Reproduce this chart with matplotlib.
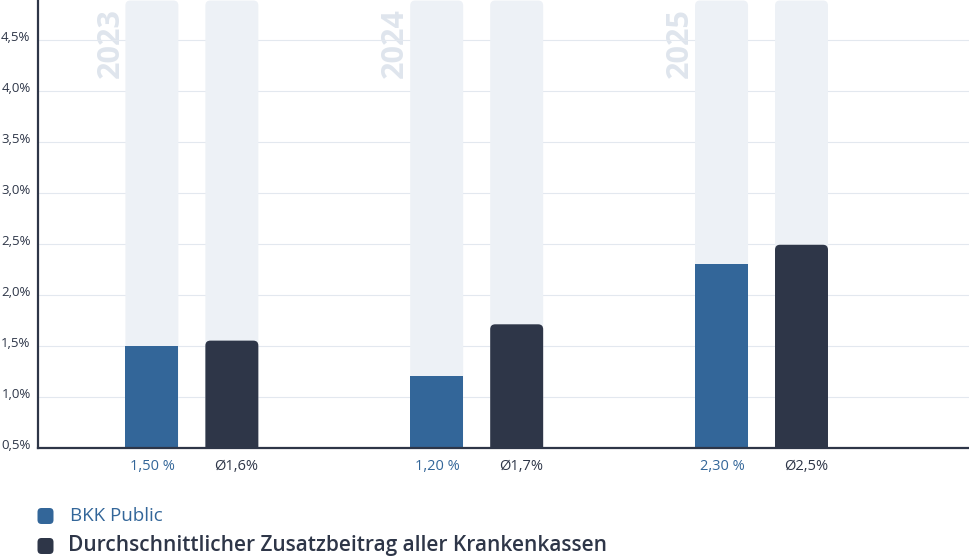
"""Zusatzbeitrag BKK Public vs. Durchschnitt aller Krankenkassen."""

import matplotlib

matplotlib.use("Agg")
import matplotlib.pyplot as plt
import numpy as np
from matplotlib.patches import FancyBboxPatch
from matplotlib.transforms import ScaledTranslation, blended_transform_factory

years = ["2023", "2024", "2025"]
bkk_values = [1.50, 1.20, 2.30]
avg_values = [1.55, 1.71, 2.49]
bkk_labels = ["1,50 %", "1,20 %", "2,30 %"]
avg_labels = ["Ø1,6%", "Ø1,7%", "Ø2,5%"]
yticks = [0.5, 1.0, 1.5, 2.0, 2.5, 3.0, 3.5, 4.0, 4.5]
ytick_labels = ["0,5%", "1,0%", "1,5%", "2,0%", "2,5%", "3,0%", "3,5%", "4,0%", "4,5%"]
legend_labels = ["BKK Public", "Durchschnittlicher Zusatzbeitrag aller Krankenkassen"]

BLUE = "#336699"
DARK = "#2e3648"
TRACK = "#edf1f6"
YEAR = "#dfe5ed"
GRID = "#e3e8ef"

plt.rcParams["font.family"] = ["Open Sans", "DejaVu Sans"]

W, H, DPI = 970, 560, 100
fig = plt.figure(figsize=(W / DPI, H / DPI), dpi=DPI)
ax = fig.add_axes([37.5 / W, (H - 447.7) / H, 1 - 37.5 / W, 447.7 / H])

YMIN, YMAX = 0.5, 4.89
XMIN, XMAX = -0.542, 2.732
ax.set_xlim(XMIN, XMAX)
ax.set_ylim(YMIN, YMAX)

width = 0.186
offset = 0.1404
# pixels per data unit, used to keep the corner radius round
px_x = ax.get_position().width * W / (XMAX - XMIN)
px_y = ax.get_position().height * H / (YMAX - YMIN)
radius = 5 / px_x
aspect = px_x / px_y


def rounded_bar(x, bottom, top, color, z):
    patch = FancyBboxPatch(
        (x - width / 2, bottom), width, top - bottom,
        boxstyle=f"round,pad=0,rounding_size={radius}",
        mutation_aspect=aspect, facecolor=color, edgecolor="none", zorder=z,
    )
    ax.add_patch(patch)


x = np.arange(len(years))
for i in x:
    for dx in (-offset, offset):
        rounded_bar(i + dx, YMIN - 0.3, YMAX - 0.005, TRACK, 1)
    rounded_bar(i + offset, YMIN - 0.3, avg_values[i], DARK, 3)

ax.bar(x - offset, bkk_values, width=width, bottom=0, color=BLUE, zorder=3)

ax.set_yticks(yticks)
ax.set_yticklabels(ytick_labels, fontsize=9.5, color="#2e3648")
ax.set_xticks([])
ax.tick_params(axis="y", length=0, pad=5)
# labels sit a few pixels above their grid line
lift = ScaledTranslation(0, 4 / DPI, fig.dpi_scale_trans)
for lbl in ax.get_yticklabels():
    lbl.set_transform(lbl.get_transform() + lift)
ax.grid(axis="y", color=GRID, linewidth=0.8, zorder=0)
ax.set_axisbelow(True)

for side in ("top", "right"):
    ax.spines[side].set_visible(False)
for side in ("left", "bottom"):
    ax.spines[side].set_color(DARK)
    ax.spines[side].set_linewidth(1.6)
    ax.spines[side].set_zorder(5)

trans = blended_transform_factory(ax.transData, ax.transAxes)
nudge = 4.5 / px_x
for i, year in enumerate(years):
    ax.text(i - 0.286, 1 - 8 / 447.7, year, transform=trans, rotation=90,
            ha="center", va="top", fontsize=22, fontweight="bold", color=YEAR, zorder=0.5)
    ax.text(i - offset + 1 / px_x, -19 / 447.7, bkk_labels[i], transform=trans,
            ha="center", va="center", fontsize=10.5, color=BLUE)
    ax.text(i + offset + nudge, -19 / 447.7, avg_labels[i], transform=trans,
            ha="center", va="center", fontsize=10.5, color=DARK)

# legend drawn by hand in pixel positions
for (cy, color, label, size, tx) in [
    (516, BLUE, legend_labels[0], 13.5, 70),
    (546, DARK, legend_labels[1], 15, 68),
]:
    box = FancyBboxPatch(
        ((37.5) / DPI, (H - cy - 8) / DPI), 16 / DPI, 16 / DPI,
        boxstyle=f"round,pad=0,rounding_size={4 / DPI}",
        facecolor=color, edgecolor="none", transform=fig.dpi_scale_trans,
    )
    fig.add_artist(box)
    fig.text(tx / W, (H - cy) / H, label, ha="left", va="center",
             fontsize=size, color=color,
             fontweight="semibold" if color == DARK else "normal")

fig.savefig("out.png", dpi=DPI)
